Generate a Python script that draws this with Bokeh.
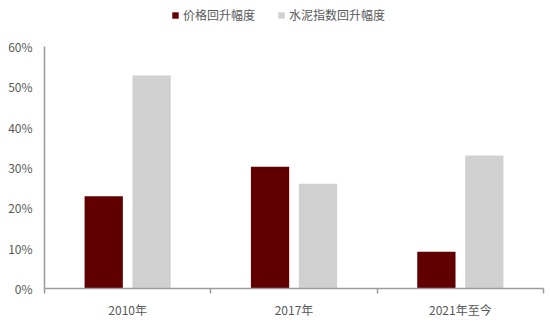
from bokeh.plotting import figure
from bokeh.models import Range1d, FixedTicker, Legend, LegendItem, ColumnDataSource
from bokeh.embed import file_html
from bokeh.resources import INLINE

categories = ["2010年", "2017年", "2021年至今"]
price_rise = [22.9, 30.2, 9.1]
cement_rise = [52.8, 26.0, 33.0]
series_names = ["价格回升幅度", "水泥指数回升幅度"]
y_ticks = [0, 10, 20, 30, 40, 50, 60]
y_tick_labels = ["0%", "10%", "20%", "30%", "40%", "50%", "60%"]

FONT = "Noto Sans CJK SC"
TEXT = "#595959"
AXIS = "#9a9a9a"
DARK = "#600000"
GREY = "#d0d0d0"

n = len(categories)
centers = [i + 0.5 for i in range(n)]
off = 0.144
bw = 0.23

# frame spans the canvas top down to the x axis; 60% sits 46px below the top
frame_h = 288
axis_h = 242
y_max = y_ticks[-1]
y_top = y_max * frame_h / axis_h

src = ColumnDataSource(dict(
    x1=[c - off for c in centers], x2=[c + off for c in centers],
    price=price_rise, cement=cement_rise,
))

p = figure(width=550, height=324, output_backend="svg", toolbar_location=None,
           x_range=Range1d(0, n), y_range=Range1d(0, y_top),
           min_border_left=44, min_border_right=7, min_border_top=0, min_border_bottom=36)
p.outline_line_color = None
p.background_fill_color = "white"
p.border_fill_color = "white"
p.xgrid.grid_line_color = None
p.ygrid.grid_line_color = None

r1 = p.vbar(x="x1", top="price", width=bw, bottom=0, source=src, fill_color=DARK, line_color=None)
r2 = p.vbar(x="x2", top="cement", width=bw, bottom=0, source=src, fill_color=GREY, line_color=None)

xa = p.xaxis[0]
xa.ticker = FixedTicker(ticks=centers, minor_ticks=[i for i in range(n + 1)])
xa.major_label_overrides = {c: lab for c, lab in zip(centers, categories)}
xa.major_tick_line_color = None
xa.major_tick_out = 0
xa.major_tick_in = 0
xa.minor_tick_line_color = AXIS
xa.minor_tick_line_width = 1.5
xa.minor_tick_out = 5
xa.minor_tick_in = 0
xa.axis_line_color = AXIS
xa.axis_line_width = 1.5
xa.major_label_text_font = FONT
xa.major_label_text_font_size = "12px"
xa.major_label_text_color = TEXT
xa.major_label_standoff = 7

ya = p.yaxis[0]
ya.ticker = FixedTicker(ticks=y_ticks, minor_ticks=[])
ya.major_label_overrides = {t: lab for t, lab in zip(y_ticks, y_tick_labels)}
ya.bounds = (0, y_max)
ya.major_tick_line_color = None
ya.major_tick_out = 0
ya.major_tick_in = 0
ya.minor_tick_line_color = None
ya.axis_line_color = AXIS
ya.axis_line_width = 1.5
ya.major_label_text_font = FONT
ya.major_label_text_font_size = "12px"
ya.major_label_text_color = TEXT
ya.major_label_standoff = 12

legend = Legend(items=[LegendItem(label=series_names[0], renderers=[r1]),
                       LegendItem(label=series_names[1], renderers=[r2])],
                location=(127, 265), orientation="horizontal",
                glyph_width=8, glyph_height=8, label_standoff=4, spacing=22,
                padding=0, margin=0, border_line_color=None, background_fill_alpha=0,
                label_text_font=FONT, label_text_font_size="12px", label_text_color=TEXT,
                label_height=14)
p.add_layout(legend, "center")

open("out.html", "w").write(file_html(p, INLINE))
